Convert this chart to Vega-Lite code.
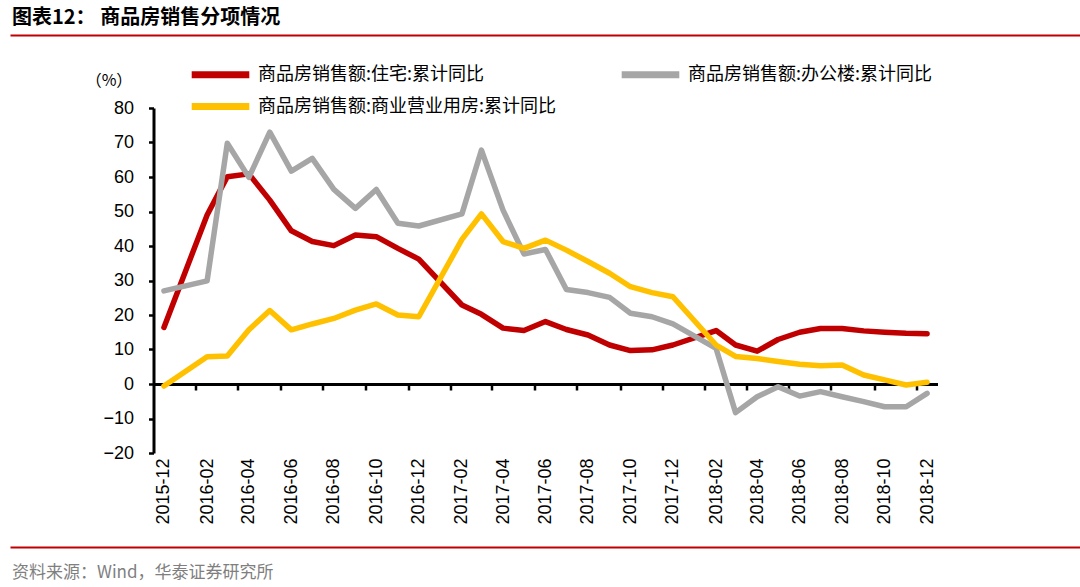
{
  "$schema": "https://vega.github.io/schema/vega-lite/v6.json",
  "background": "white",
  "padding": {"left": 10, "top": 7, "right": 0, "bottom": 12},
  "bounds": "flush",
  "center": true,
  "spacing": 73,
  "config": {
    "view": {"stroke": null},
    "axis": {"labelFont": "Liberation Sans", "labelColor": "#000", "grid": false},
    "title": {"font": "Noto Sans CJK SC"}
  },
  "vconcat": [
    {
      "width": 1071,
      "height": 1,
      "data": {"values": [{"v": 0}]},
      "mark": {"type": "point", "opacity": 0},
      "encoding": {
        "x": {"field": "v", "type": "quantitative", "axis": {"domainColor": "#C00000", "domainWidth": 2, "ticks": false, "labels": false, "title": null}}
      },
      "title": {"text": "图表12： 商品房销售分项情况", "anchor": "start", "fontSize": 20, "fontWeight": "bold", "color": "#000", "offset": 4, "dx": 2, "font": "Noto Sans CJK SC"}
    },
    {
      "width": 784,
      "height": 345,
      "data": {
        "values": [
          {"month": "2015-12", "商品房销售额:住宅:累计同比": 16.4, "商品房销售额:办公楼:累计同比": 27.0, "商品房销售额:商业营业用房:累计同比": -0.6},
          {"month": "2016-02", "商品房销售额:住宅:累计同比": 49.0, "商品房销售额:办公楼:累计同比": 29.9, "商品房销售额:商业营业用房:累计同比": 7.9},
          {"month": "2016-03", "商品房销售额:住宅:累计同比": 60.1, "商品房销售额:办公楼:累计同比": 69.8, "商品房销售额:商业营业用房:累计同比": 8.1},
          {"month": "2016-04", "商品房销售额:住宅:累计同比": 60.9, "商品房销售额:办公楼:累计同比": 59.9, "商品房销售额:商业营业用房:累计同比": 15.7},
          {"month": "2016-05", "商品房销售额:住宅:累计同比": 53.3, "商品房销售额:办公楼:累计同比": 73.0, "商品房销售额:商业营业用房:累计同比": 21.3},
          {"month": "2016-06", "商品房销售额:住宅:累计同比": 44.4, "商品房销售额:办公楼:累计同比": 61.7, "商品房销售额:商业营业用房:累计同比": 15.7},
          {"month": "2016-07", "商品房销售额:住宅:累计同比": 41.3, "商品房销售额:办公楼:累计同比": 65.4, "商品房销售额:商业营业用房:累计同比": 17.4},
          {"month": "2016-08", "商品房销售额:住宅:累计同比": 40.1, "商品房销售额:办公楼:累计同比": 56.4, "商品房销售额:商业营业用房:累计同比": 19.0},
          {"month": "2016-09", "商品房销售额:住宅:累计同比": 43.2, "商品房销售额:办公楼:累计同比": 50.9, "商品房销售额:商业营业用房:累计同比": 21.4},
          {"month": "2016-10", "商品房销售额:住宅:累计同比": 42.7, "商品房销售额:办公楼:累计同比": 56.4, "商品房销售额:商业营业用房:累计同比": 23.2},
          {"month": "2016-11", "商品房销售额:住宅:累计同比": 39.3, "商品房销售额:办公楼:累计同比": 46.6, "商品房销售额:商业营业用房:累计同比": 20.0},
          {"month": "2016-12", "商品房销售额:住宅:累计同比": 36.2, "商品房销售额:办公楼:累计同比": 45.8, "商品房销售额:商业营业用房:累计同比": 19.5},
          {"month": "2017-02", "商品房销售额:住宅:累计同比": 22.9, "商品房销售额:办公楼:累计同比": 49.3, "商品房销售额:商业营业用房:累计同比": 41.9},
          {"month": "2017-03", "商品房销售额:住宅:累计同比": 20.2, "商品房销售额:办公楼:累计同比": 67.8, "商品房销售额:商业营业用房:累计同比": 49.3},
          {"month": "2017-04", "商品房销售额:住宅:累计同比": 16.2, "商品房销售额:办公楼:累计同比": 50.4, "商品房销售额:商业营业用房:累计同比": 41.3},
          {"month": "2017-05", "商品房销售额:住宅:累计同比": 15.5, "商品房销售额:办公楼:累计同比": 37.7, "商品房销售额:商业营业用房:累计同比": 39.3},
          {"month": "2017-06", "商品房销售额:住宅:累计同比": 18.1, "商品房销售额:办公楼:累计同比": 39.0, "商品房销售额:商业营业用房:累计同比": 41.7},
          {"month": "2017-07", "商品房销售额:住宅:累计同比": 15.8, "商品房销售额:办公楼:累计同比": 27.4, "商品房销售额:商业营业用房:累计同比": 38.8},
          {"month": "2017-08", "商品房销售额:住宅:累计同比": 14.2, "商品房销售额:办公楼:累计同比": 26.5, "商品房销售额:商业营业用房:累计同比": 35.5},
          {"month": "2017-09", "商品房销售额:住宅:累计同比": 11.3, "商品房销售额:办公楼:累计同比": 25.1, "商品房销售额:商业营业用房:累计同比": 32.1},
          {"month": "2017-10", "商品房销售额:住宅:累计同比": 9.7, "商品房销售额:办公楼:累计同比": 20.5, "商品房销售额:商业营业用房:累计同比": 28.2},
          {"month": "2017-11", "商品房销售额:住宅:累计同比": 9.9, "商品房销售额:办公楼:累计同比": 19.5, "商品房销售额:商业营业用房:累计同比": 26.5},
          {"month": "2017-12", "商品房销售额:住宅:累计同比": 11.3, "商品房销售额:办公楼:累计同比": 17.4, "商品房销售额:商业营业用房:累计同比": 25.3},
          {"month": "2018-02", "商品房销售额:住宅:累计同比": 15.5, "商品房销售额:办公楼:累计同比": 10.3, "商品房销售额:商业营业用房:累计同比": 11.3},
          {"month": "2018-03", "商品房销售额:住宅:累计同比": 11.3, "商品房销售额:办公楼:累计同比": -8.3, "商品房销售额:商业营业用房:累计同比": 8.0},
          {"month": "2018-04", "商品房销售额:住宅:累计同比": 9.5, "商品房销售额:办公楼:累计同比": -3.7, "商品房销售额:商业营业用房:累计同比": 7.4},
          {"month": "2018-05", "商品房销售额:住宅:累计同比": 12.9, "商品房销售额:办公楼:累计同比": -0.8, "商品房销售额:商业营业用房:累计同比": 6.5},
          {"month": "2018-06", "商品房销售额:住宅:累计同比": 15.0, "商品房销售额:办公楼:累计同比": -3.5, "商品房销售额:商业营业用房:累计同比": 5.7},
          {"month": "2018-07", "商品房销售额:住宅:累计同比": 16.1, "商品房销售额:办公楼:累计同比": -2.2, "商品房销售额:商业营业用房:累计同比": 5.3},
          {"month": "2018-08", "商品房销售额:住宅:累计同比": 16.1, "商品房销售额:办公楼:累计同比": -3.7, "商品房销售额:商业营业用房:累计同比": 5.5},
          {"month": "2018-09", "商品房销售额:住宅:累计同比": 15.4, "商品房销售额:办公楼:累计同比": -5.1, "商品房销售额:商业营业用房:累计同比": 2.6},
          {"month": "2018-10", "商品房销售额:住宅:累计同比": 15.0, "商品房销售额:办公楼:累计同比": -6.6, "商品房销售额:商业营业用房:累计同比": 1.2},
          {"month": "2018-11", "商品房销售额:住宅:累计同比": 14.7, "商品房销售额:办公楼:累计同比": -6.6, "商品房销售额:商业营业用房:累计同比": -0.3},
          {"month": "2018-12", "商品房销售额:住宅:累计同比": 14.6, "商品房销售额:办公楼:累计同比": -2.7, "商品房销售额:商业营业用房:累计同比": 0.5}
        ],
        "format": {"parse": {"month": "date:'%Y-%m'"}}
      },
      "transform": [
        {"fold": ["商品房销售额:住宅:累计同比", "商品房销售额:办公楼:累计同比", "商品房销售额:商业营业用房:累计同比"], "as": ["series", "value"]}
      ],
      "layer": [
        {
          "mark": {"type": "line", "strokeWidth": 5.5, "strokeJoin": "round", "strokeCap": "round"},
          "encoding": {
            "x": {
              "field": "month",
              "type": "temporal",
              "scale": {"domain": [{"year": 2015, "month": 11, "date": 16}, {"year": 2018, "month": 12, "date": 16}]},
              "axis": {
                "orient": "bottom",
                "values": [
                  {"year": 2015, "month": 12, "date": 1},
                  {"year": 2016, "month": 2, "date": 1}, {"year": 2016, "month": 4, "date": 1}, {"year": 2016, "month": 6, "date": 1},
                  {"year": 2016, "month": 8, "date": 1}, {"year": 2016, "month": 10, "date": 1}, {"year": 2016, "month": 12, "date": 1},
                  {"year": 2017, "month": 2, "date": 1}, {"year": 2017, "month": 4, "date": 1}, {"year": 2017, "month": 6, "date": 1},
                  {"year": 2017, "month": 8, "date": 1}, {"year": 2017, "month": 10, "date": 1}, {"year": 2017, "month": 12, "date": 1},
                  {"year": 2018, "month": 2, "date": 1}, {"year": 2018, "month": 4, "date": 1}, {"year": 2018, "month": 6, "date": 1},
                  {"year": 2018, "month": 8, "date": 1}, {"year": 2018, "month": 10, "date": 1}, {"year": 2018, "month": 12, "date": 1}
                ],
                "format": "%Y-%m",
                "labelAngle": -90,
                "labelFontSize": 18,
                "labelPadding": 5,
                "labelOverlap": false,
                "labelFlush": false,
                "labelBound": false,
                "domain": false,
                "ticks": false,
                "title": null
              }
            },
            "y": {
              "field": "value",
              "type": "quantitative",
              "scale": {"domain": [-20, 80], "nice": false, "zero": false},
              "axis": {
                "values": [-20, -10, 0, 10, 20, 30, 40, 50, 60, 70, 80],
                "domainColor": "#000",
                "domainWidth": 3,
                "tickColor": "#000",
                "tickWidth": 2.5,
                "tickSize": 5,
                "labelFontSize": 18,
                "labelPadding": 15,
                "title": "（%）",
                "titleAngle": 0,
                "titleX": -45,
                "titleY": -28,
                "titleAlign": "center",
                "titleBaseline": "middle",
                "titleFont": "Noto Sans CJK SC",
                "titleFontSize": 16,
                "titleFontWeight": "normal",
                "titleColor": "#000"
              }
            },
            "color": {
              "field": "series",
              "type": "nominal",
              "scale": {
                "domain": ["商品房销售额:住宅:累计同比", "商品房销售额:办公楼:累计同比", "商品房销售额:商业营业用房:累计同比"],
                "range": ["#C00000", "#A6A6A6", "#FFC000"]
              },
              "legend": {
                "orient": "none",
                "legendX": 198,
                "legendY": 28,
                "columns": 2,
                "direction": "horizontal",
                "title": null,
                "symbolType": "M-3.2,0H3.2",
                "symbolSize": 324,
                "symbolStrokeWidth": 7,
                "labelFont": "Noto Sans CJK SC",
                "labelFontSize": 18,
                "labelColor": "#000",
                "labelLimit": 500,
                "labelOffset": 25,
                "columnPadding": 50,
                "rowPadding": 3
              }
            }
          }
        },
        {
          "mark": {"type": "point", "opacity": 0},
          "encoding": {
            "x": {
              "field": "month",
              "type": "temporal",
              "axis": {
                "orient": "bottom",
                "offset": -69,
                "values": [
                  {"year": 2016, "month": 1, "date": 16}, {"year": 2016, "month": 3, "date": 16}, {"year": 2016, "month": 5, "date": 16},
                  {"year": 2016, "month": 7, "date": 16}, {"year": 2016, "month": 9, "date": 16}, {"year": 2016, "month": 11, "date": 16},
                  {"year": 2017, "month": 1, "date": 16}, {"year": 2017, "month": 3, "date": 16}, {"year": 2017, "month": 5, "date": 16},
                  {"year": 2017, "month": 7, "date": 16}, {"year": 2017, "month": 9, "date": 16}, {"year": 2017, "month": 11, "date": 16},
                  {"year": 2018, "month": 1, "date": 16}, {"year": 2018, "month": 3, "date": 16}, {"year": 2018, "month": 5, "date": 16},
                  {"year": 2018, "month": 7, "date": 16}, {"year": 2018, "month": 9, "date": 16}, {"year": 2018, "month": 11, "date": 16}
                ],
                "labels": false,
                "domain": true,
                "domainColor": "#000",
                "domainWidth": 3,
                "ticks": true,
                "tickColor": "#000",
                "tickSize": 6,
                "tickWidth": 2.5,
                "title": null,
                "grid": false
              }
            }
          }
        }
      ],
      "resolve": {"axis": {"x": "independent"}}
    },
    {
      "width": 1071,
      "height": 21,
      "data": {"values": [{"v": 0}]},
      "mark": {"type": "point", "opacity": 0},
      "encoding": {
        "x": {"field": "v", "type": "quantitative", "axis": {"domainColor": "#C00000", "domainWidth": 2, "ticks": false, "labels": false, "title": null}}
      },
      "title": {"text": "资料来源：Wind，华泰证券研究所", "orient": "bottom", "anchor": "start", "fontSize": 17, "fontWeight": "normal", "color": "#7F7F7F", "offset": 18, "dx": 2, "font": "Noto Sans CJK SC"}
    }
  ]
}
